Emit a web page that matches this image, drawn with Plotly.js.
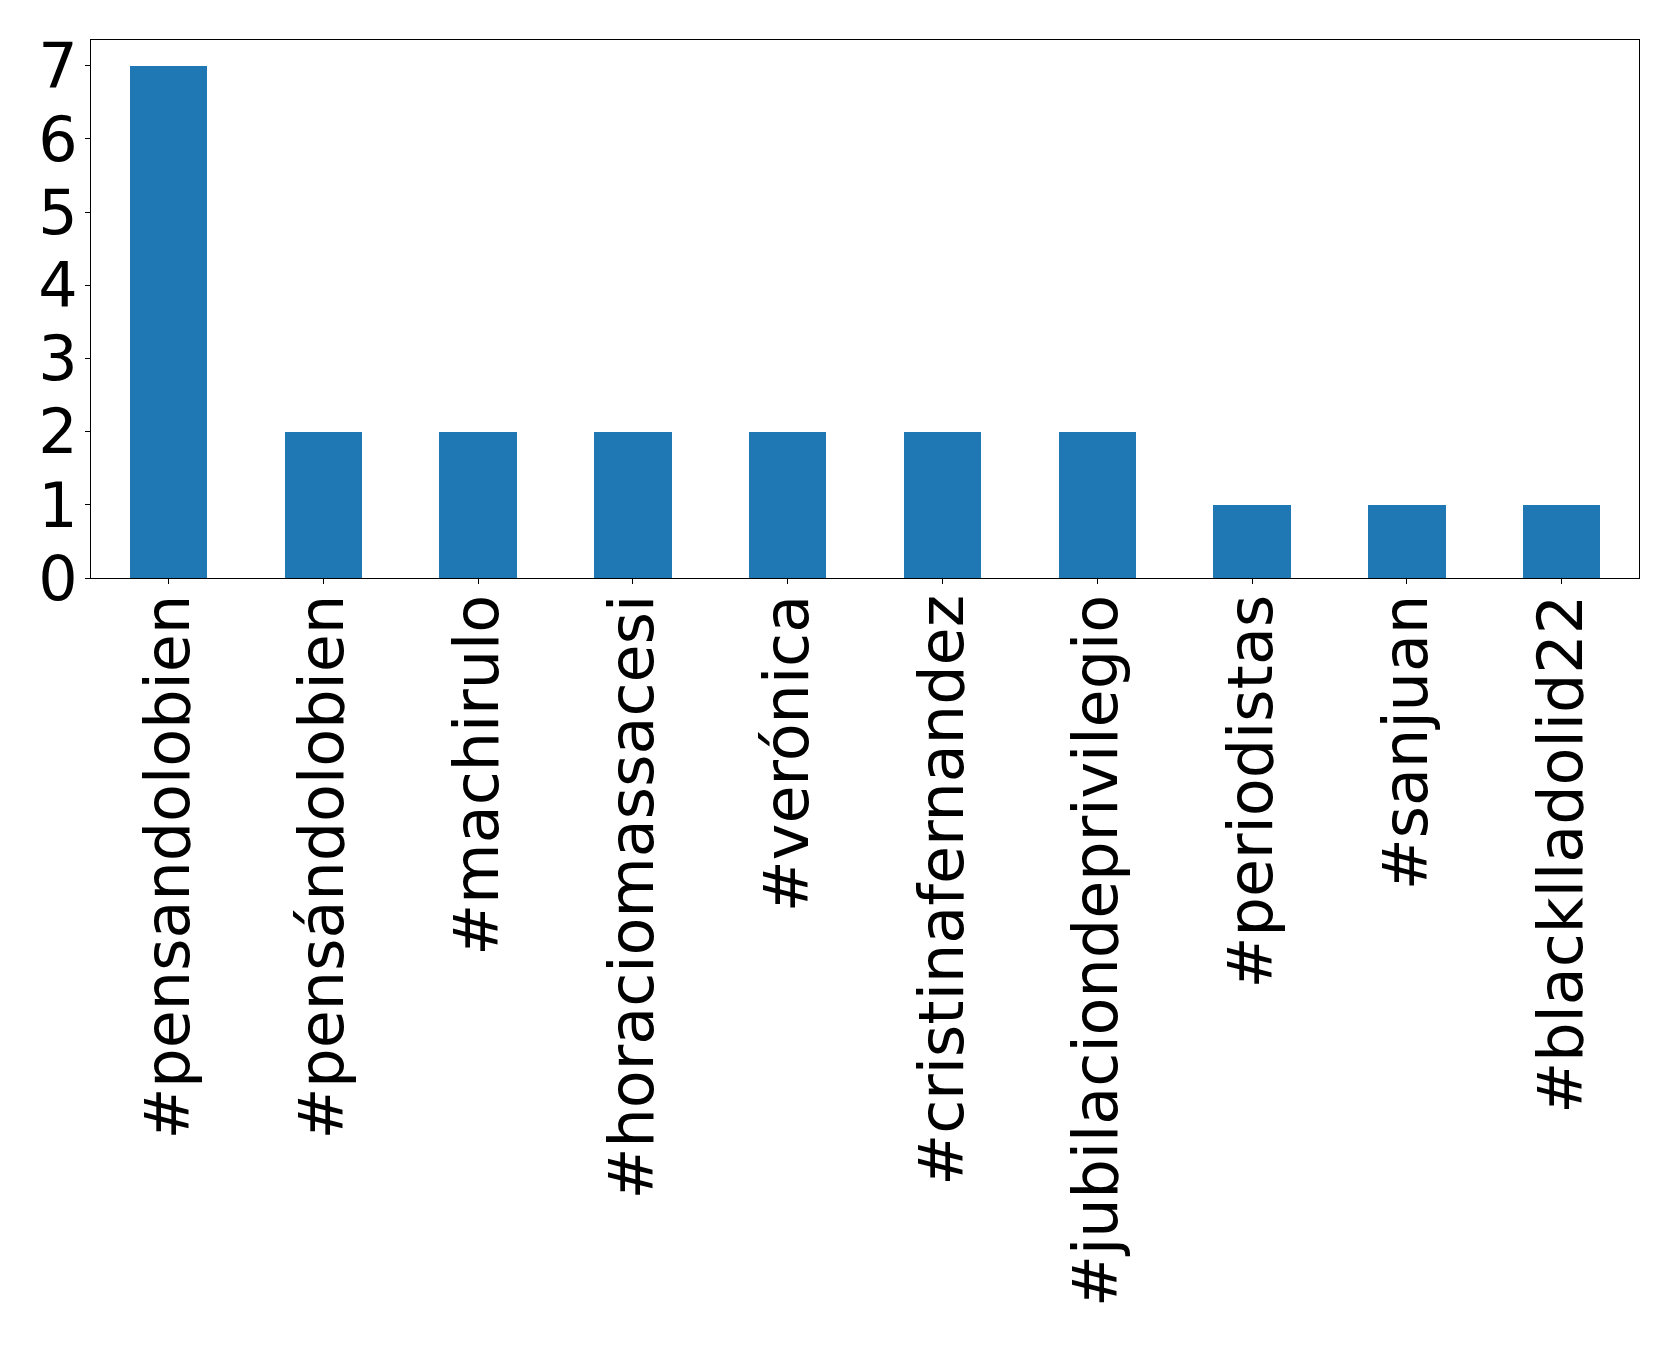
<!DOCTYPE html>
<html>
<head>
<meta charset="utf-8">
<script src="https://cdn.plot.ly/plotly-3.0.1.min.js"></script>
<style>html,body{margin:0;padding:0;background:#fff;}#chart{width:1679px;height:1346px;}</style>
</head>
<body>
<div id="chart"></div>
<script>
const hashtags = ["#pensandolobien", "#pensándolobien", "#machirulo", "#horaciomassacesi", "#verónica", "#cristinafernandez", "#jubilaciondeprivilegio", "#periodistas", "#sanjuan", "#blacklladolid22"];
const counts = [7, 2, 2, 2, 2, 2, 2, 1, 1, 1];
const yTicks = [0, 1, 2, 3, 4, 5, 6, 7];

const font = {family: "DejaVu Sans, sans-serif", size: 62, color: "#000"};

Plotly.newPlot("chart", [{
  type: "bar",
  x: hashtags,
  y: counts,
  width: 0.5,
  marker: {color: "#1f77b4", line: {width: 0}},
  hoverinfo: "skip"
}], {
  width: 1679,
  height: 1346,
  margin: {l: 91, r: 40, t: 40, b: 768, pad: 0},
  paper_bgcolor: "#fff",
  plot_bgcolor: "#fff",
  showlegend: false,
  bargap: 0,
  font: font,
  xaxis: {
    type: "category",
    range: [-0.5, 9.5],
    tickangle: -90,
    tickfont: font,
    ticks: "outside",
    ticklen: 5,
    tickwidth: 1,
    tickcolor: "#000",
    ticklabelstandoff: -14,
    showline: true,
    linecolor: "#000",
    linewidth: 1,
    mirror: true,
    showgrid: false,
    zeroline: false,
    automargin: false
  },
  yaxis: {
    range: [0, 7.35],
    tickmode: "array",
    tickvals: yTicks,
    ticktext: yTicks.map(String),
    tickfont: font,
    ticks: "outside",
    ticklen: 5,
    tickwidth: 1,
    tickcolor: "#000",
    ticklabelstandoff: -5,
    showline: true,
    linecolor: "#000",
    linewidth: 1,
    mirror: true,
    showgrid: false,
    zeroline: false,
    automargin: false
  }
}, {staticPlot: true, displayModeBar: false});
</script>
</body>
</html>
